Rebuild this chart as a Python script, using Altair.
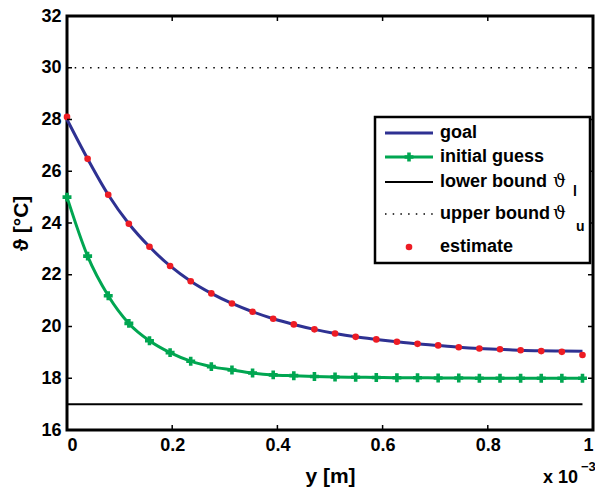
import altair as alt
import pandas as pd

# ---- data ----
x_grid = [0.0, 0.0392, 0.0784, 0.1176, 0.1568, 0.196, 0.2352, 0.2744, 0.3136, 0.3528,
          0.392, 0.4312, 0.4704, 0.5096, 0.5488, 0.588, 0.6272, 0.6664, 0.7056, 0.7448,
          0.784, 0.8232, 0.8624, 0.9016, 0.9408, 0.98]
goal = [28.0, 26.48, 25.09, 23.97, 23.08, 22.34, 21.75, 21.28, 20.89, 20.57,
        20.30, 20.08, 19.89, 19.73, 19.60, 19.50, 19.41, 19.33, 19.27, 19.20,
        19.15, 19.12, 19.08, 19.06, 19.05, 19.04]
initial_guess = [25.0, 22.72, 21.19, 20.12, 19.45, 18.99, 18.66, 18.45, 18.32, 18.20,
                 18.13, 18.10, 18.07, 18.05, 18.04, 18.03, 18.02, 18.02, 18.01, 18.01,
                 18.0, 18.0, 18.0, 18.0, 18.0, 18.0]
estimate = [28.1, 26.48, 25.09, 23.97, 23.08, 22.34, 21.75, 21.28, 20.89, 20.57,
            20.30, 20.08, 19.89, 19.73, 19.60, 19.50, 19.41, 19.33, 19.27, 19.20,
            19.15, 19.12, 19.08, 19.05, 19.02, 18.90]
bound_x = [0.0, 0.98]
lower_bound = [17, 17]
upper_bound = [30, 30]
x_ticks = [0, 0.2, 0.4, 0.6, 0.8, 1.0]
y_ticks = [16, 18, 20, 22, 24, 26, 28, 30, 32]
legend_labels = ["goal", "initial guess", "lower bound", "upper bound", "estimate"]
theta_symbol = "\u03d1"
subscripts = ["l", "u"]

# ---- style ----
W, H = 526, 414
FONT = "Liberation Sans"
BLUE = "#2e3192"
GREEN = "#00a651"
RED = "#ed1c24"

df = pd.DataFrame({"x": x_grid, "goal": goal, "initial": initial_guess, "estimate": estimate})
bdf = pd.DataFrame({"x": bound_x, "lower": lower_bound, "upper": upper_bound})
xt = pd.DataFrame({"t": x_ticks})
yt = pd.DataFrame({"t": y_ticks})
one = alt.Data(values=[{"a": 1}])

xs = alt.Scale(domain=[0, 1], nice=False, zero=False)
ys = alt.Scale(domain=[16, 32], nice=False, zero=False)

xaxis = alt.Axis(values=x_ticks, format="~g", title="y [m]", titlePadding=11)
yaxis = alt.Axis(values=y_ticks, format="~g", title="\u03d1 [\u00b0C]", titlePadding=9)


def X(field):
    return alt.X(field, type="quantitative", scale=xs, axis=xaxis)


def Y(field):
    return alt.Y(field, type="quantitative", scale=ys, axis=yaxis)


upper = alt.Chart(bdf).mark_line(color="black", strokeWidth=1.5, strokeDash=[1.5, 6.2]).encode(
    x=X("x"), y=Y("upper"))
lower = alt.Chart(bdf).mark_line(color="black", strokeWidth=2).encode(
    x=X("x"), y=Y("lower"))
goal_line = alt.Chart(df).mark_line(color=BLUE, strokeWidth=3, interpolate="monotone").encode(
    x=X("x"), y=Y("goal"))
init_line = alt.Chart(df).mark_line(color=GREEN, strokeWidth=3, interpolate="monotone").encode(
    x=X("x"), y=Y("initial"))
init_pts = alt.Chart(df).mark_point(shape="cross", filled=True, color=GREEN, size=80, opacity=1).encode(
    x=X("x"), y=Y("initial"))
est_pts = alt.Chart(df).mark_circle(color=RED, size=44, opacity=1).encode(
    x=X("x"), y=Y("estimate"))

# inward ticks on all four sides
tick_b = alt.Chart(xt).mark_rule(color="black", strokeWidth=1.5).encode(
    x=X("t"), y=alt.value(H), y2=alt.value(H - 5))
tick_t = alt.Chart(xt).mark_rule(color="black", strokeWidth=1.5).encode(
    x=X("t"), y=alt.value(0), y2=alt.value(5))
tick_l = alt.Chart(yt).mark_rule(color="black", strokeWidth=1.5).encode(
    y=Y("t"), x=alt.value(0), x2=alt.value(5))
tick_r = alt.Chart(yt).mark_rule(color="black", strokeWidth=1.5).encode(
    y=Y("t"), x=alt.value(W), x2=alt.value(W - 5))

# ---- legend box ----
LX0, LX1, LY0, LY1 = 308, 523, 101, 247
SX0, SX1 = 318, 366
TX = 373
rows_y = [117, 141, 166, 198, 231]

leg = [alt.Chart(one).mark_rect(fill="white", stroke="black", strokeWidth=2.5).encode(
    x=alt.value(LX0), x2=alt.value(LX1), y=alt.value(LY0), y2=alt.value(LY1))]
leg.append(alt.Chart(one).mark_rule(color=BLUE, strokeWidth=3).encode(
    x=alt.value(SX0), x2=alt.value(SX1), y=alt.value(rows_y[0])))
leg.append(alt.Chart(one).mark_rule(color=GREEN, strokeWidth=3).encode(
    x=alt.value(SX0), x2=alt.value(SX1), y=alt.value(rows_y[1])))
leg.append(alt.Chart(one).mark_point(shape="cross", filled=True, color=GREEN, size=80, opacity=1).encode(
    x=alt.value((SX0 + SX1) / 2), y=alt.value(rows_y[1])))
leg.append(alt.Chart(one).mark_rule(color="black", strokeWidth=2).encode(
    x=alt.value(SX0), x2=alt.value(SX1), y=alt.value(rows_y[2])))
leg.append(alt.Chart(one).mark_rule(color="black", strokeWidth=1.5, strokeDash=[1.5, 6.2]).encode(
    x=alt.value(SX0), x2=alt.value(SX1), y=alt.value(rows_y[3])))
leg.append(alt.Chart(one).mark_circle(color=RED, size=44, opacity=1).encode(
    x=alt.value((SX0 + SX1) / 2), y=alt.value(rows_y[4])))
for lab, yy in zip(legend_labels, rows_y):
    leg.append(alt.Chart(one).mark_text(
        text=lab, align="left", baseline="middle", font=FONT, fontSize=18,
        fontWeight="bold", color="black").encode(x=alt.value(TX), y=alt.value(yy)))
for yy in (rows_y[2], rows_y[3]):
    leg.append(alt.Chart(one).mark_text(
        text=theta_symbol, align="left", baseline="middle", font="DejaVu Serif", fontSize=18,
        fontWeight="normal", color="black").encode(x=alt.value(486), y=alt.value(yy)))
leg.append(alt.Chart(one).mark_text(
    text=subscripts[0], align="left", baseline="middle", font=FONT, fontSize=14,
    fontWeight="bold", color="black").encode(x=alt.value(506), y=alt.value(176)))
leg.append(alt.Chart(one).mark_text(
    text=subscripts[1], align="left", baseline="middle", font=FONT, fontSize=14,
    fontWeight="bold", color="black").encode(x=alt.value(509), y=alt.value(211)))

# axis multiplier "x 10^-3"
mult = alt.Chart(one).mark_text(
    text="x 10", align="left", baseline="alphabetic", font=FONT, fontSize=18,
    fontWeight="bold", color="black").encode(x=alt.value(476), y=alt.value(467))
mult_exp = alt.Chart(one).mark_text(
    text="\u22123", align="left", baseline="alphabetic", font=FONT, fontSize=13,
    fontWeight="bold", color="black").encode(x=alt.value(514), y=alt.value(455))

chart = alt.layer(
    upper, lower, goal_line, init_line, init_pts, est_pts,
    tick_b, tick_t, tick_l, tick_r, *leg, mult, mult_exp
).properties(
    width=W, height=H,
    autosize=alt.AutoSizeParams(type="none"),
    padding={"left": 67, "top": 16, "right": 2, "bottom": 63},
    background="white",
).configure_view(
    stroke="black", strokeWidth=3
).configure_axis(
    grid=False, domain=False, ticks=False,
    labelFont=FONT, labelFontSize=18, labelFontWeight="bold", labelColor="black",
    labelPadding=6,
    titleFont=FONT, titleFontSize=21, titleFontWeight="bold", titleColor="black",
)

chart.save("out.html", embed_options={"renderer": "svg", "actions": False})
